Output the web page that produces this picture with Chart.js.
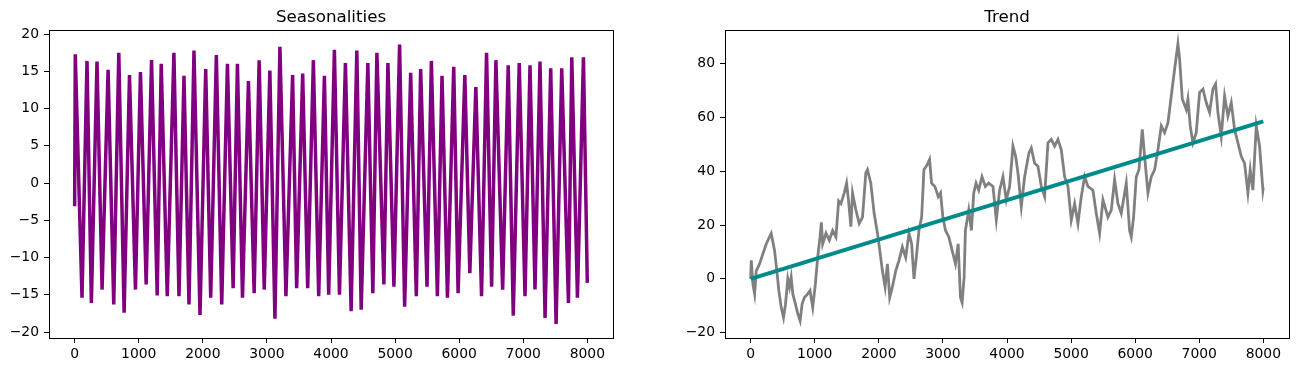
<!DOCTYPE html>
<html>
<head>
<meta charset="utf-8">
<script src="https://cdn.jsdelivr.net/npm/chart.js@4.4.0/dist/chart.umd.min.js"></script>
<style>
  html, body { margin: 0; padding: 0; background: #fff; }
  #wrap { position: relative; width: 1299px; height: 372px; }
  .panel { position: absolute; top: 0; height: 372px; }
  #left { left: 0; width: 640px; }
  #right { left: 660px; width: 639px; }
</style>
</head>
<body>
<div id="wrap">
  <div class="panel" id="left"><canvas id="seasonChart" width="640" height="372"></canvas></div>
  <div class="panel" id="right"><canvas id="trendChart" width="639" height="372"></canvas></div>
</div>
<script>
// tick labels
var xTicks = [0, 1000, 2000, 3000, 4000, 5000, 6000, 7000, 8000];
var seasYTicks = [-20, -15, -10, -5, 0, 5, 10, 15, 20];
var trendYTicks = [-20, 0, 20, 40, 60, 80];

// seasonalities: weekly highs and lows
var seasStartX = 0, seasStartY = -3.1;
var seasPeakX = [10, 193, 349, 522, 689, 856, 1027, 1200, 1351, 1549, 1706, 1862, 2045, 2211, 2384, 2540,
  2712, 2879, 3046, 3203, 3401, 3558, 3725, 3897, 4053, 4225, 4403, 4575, 4716, 4888, 5070, 5243,
  5399, 5566, 5732, 5915, 6088, 6260, 6427, 6573, 6765, 6937, 7105, 7261, 7428, 7600, 7757, 7939];
var seasPeakY = [17.3, 16.4, 16.3, 15.2, 17.5, 14.5, 14.9, 16.5, 16, 17.5, 14.4, 17.8, 15.3, 17.2, 16, 16,
  13.7, 16.5, 15.1, 18.3, 14.5, 14.7, 16.5, 14.4, 17.9, 16.1, 17.8, 16.1, 17.5, 16.1, 18.6, 14.8,
  15.3, 16.4, 14.4, 15.6, 14.5, 12.9, 17.5, 16.5, 15.8, 16.1, 15.8, 16.3, 15.4, 15.4, 16.9, 16.9];
var seasTroughX = [115, 261, 428, 610, 772, 949, 1116, 1288, 1445, 1628, 1784, 1956, 2123, 2295, 2473, 2619,
  2801, 2958, 3125, 3297, 3464, 3636, 3808, 3964, 4132, 4314, 4471, 4653, 4825, 4982, 5149, 5331,
  5498, 5660, 5817, 5983, 6166, 6349, 6506, 6678, 6844, 7027, 7183, 7340, 7512, 7705, 7845, 7999];
var seasTroughY = [-15.4, -16.1, -14.3, -16.3, -17.4, -14.3, -13.6, -15.1, -15.2, -15.2, -16.3, -17.7, -15.4, -16.3, -14.1, -15.4,
  -14.8, -14.3, -18.2, -15.2, -14.1, -14.1, -15.2, -15, -15, -17.2, -17, -14.8, -13.6, -13.9, -16.6, -15.2,
  -13.9, -15.2, -15.4, -14.8, -12.1, -15.2, -13.9, -14.3, -17.8, -15.2, -14.3, -18.1, -18.9, -16.1, -15.4, -13.4];

// trend: the noisy series and its straight fit
var trendX = [0, 10, 36, 62, 88, 140, 192, 243, 295, 321, 373, 409, 440, 477, 513, 544, 580, 606, 632, 658,
  699, 736, 772, 803, 839, 891, 927, 969, 1010, 1046, 1083, 1103, 1124, 1176, 1228, 1279, 1331, 1373, 1409, 1461,
  1497, 1528, 1564, 1590, 1642, 1694, 1746, 1797, 1823, 1875, 1927, 1979, 2015, 2056, 2098, 2134, 2170, 2212, 2264, 2315,
  2367, 2419, 2471, 2512, 2549, 2585, 2626, 2668, 2704, 2756, 2792, 2823, 2875, 2927, 2963, 2999, 3041, 3092, 3144, 3196,
  3238, 3274, 3300, 3331, 3351, 3403, 3445, 3481, 3517, 3559, 3610, 3662, 3714, 3781, 3833, 3885, 3937, 3989, 4041, 4093,
  4135, 4171, 4223, 4275, 4343, 4379, 4431, 4483, 4535, 4587, 4639, 4691, 4743, 4795, 4847, 4899, 4951, 5003, 5055, 5107,
  5159, 5211, 5263, 5341, 5393, 5445, 5497, 5575, 5627, 5679, 5731, 5783, 5861, 5913, 5939, 5975, 6017, 6059, 6111, 6147,
  6199, 6251, 6303, 6355, 6407, 6459, 6511, 6563, 6615, 6667, 6693, 6735, 6797, 6823, 6859, 6901, 6953, 7005, 7057, 7109,
  7161, 7213, 7255, 7291, 7343, 7395, 7447, 7499, 7551, 7603, 7655, 7707, 7759, 7795, 7837, 7889, 7941, 7993, 7999];
var trendY = [0, 6.9, -1.9, -5.6, 3, 5.6, 9.4, 13, 15.6, 16.9, 10.6, 3, -4.4, -10.6, -14.4, -9.4, 0, -3, 0.6, -5.6,
  -9.4, -13, -15.6, -9.4, -6.9, -5.6, -4.4, -10.6, -1.9, 8, 15.6, 21, 13, 17, 14.4, 18, 15.6, 29, 28, 32,
  35.6, 29, 19.4, 32, 25.6, 20.6, 23, 39.4, 40.6, 35.6, 24.4, 17, 10.6, 3, -3, 5.6, -6.9, -3, 3, 6.9,
  11.9, 8, 17, 13, 0, 8, 18, 23, 40.6, 42.5, 44.4, 35.6, 34.4, 30.6, 32, 23, 18, 15.6, 10.6, 5.6,
  13, -6.9, -8.8, 0.6, 18, 25.6, 18, 32, 35.6, 33, 38, 34.4, 35.6, 34.4, 21.9, 33, 38, 29.4, 34.4, 49.4,
  45.6, 39.4, 26.9, 38, 46.9, 48.7, 43, 41.9, 34.4, 30.6, 50.6, 51.9, 49.4, 51.9, 48, 38, 34.4, 21.9, 28, 20.6,
  30.6, 38, 34.4, 33, 24.4, 17, 29.4, 23, 25.6, 36.9, 28, 24.4, 35.6, 18, 15.6, 23, 38, 40.6, 55.6, 45.6,
  32, 38, 40.6, 48, 56.9, 54.4, 58, 68, 78, 87.5, 81.9, 66.9, 63, 66.9, 56.9, 50.6, 54.4, 69.4, 70.6, 65.6,
  61.9, 70.6, 72.5, 61.9, 53, 68, 60.6, 65.6, 55.6, 50.6, 45.6, 43, 32, 40.6, 33, 56.9, 49.4, 33, 34];
var fitX = [0, 7999];
var fitY = [0, 58.6];

function toPoints(xs, ys) {
  var pts = [];
  for (var i = 0; i < xs.length; i++) pts.push({ x: xs[i], y: ys[i] });
  return pts;
}

var seasPoints = [{ x: seasStartX, y: seasStartY }];
for (var i = 0; i < seasPeakX.length; i++) {
  seasPoints.push({ x: seasPeakX[i], y: seasPeakY[i] });
  seasPoints.push({ x: seasTroughX[i], y: seasTroughY[i] });
}

function fmt(v) { return String(v).replace('-', '\u2212'); }

var FONT = 'DejaVu Sans';

// box round the plot area and the title above it
var frameAndTitle = {
  id: 'frameAndTitle',
  afterDraw: function(chart) {
    var a = chart.chartArea, ctx = chart.ctx;
    ctx.save();
    ctx.strokeStyle = '#000';
    ctx.lineWidth = 1;
    ctx.strokeRect(Math.round(a.left) + 0.5, Math.round(a.top) + 0.5,
      Math.round(a.right - a.left), Math.round(a.bottom - a.top));
    ctx.fillStyle = '#000';
    ctx.font = '16.7px "' + FONT + '"';
    ctx.textAlign = 'center';
    ctx.textBaseline = 'alphabetic';
    ctx.fillText(chart.options.plugins.frameAndTitle.text, (a.left + a.right) / 2, a.top - 8);
    ctx.restore();
  }
};

function makeOptions(title, yTicks, yMin, yMax, yWidth, padRight) {
  return {
    responsive: false,
    animation: false,
    parsing: false,
    layout: { padding: { top: 30, right: padRight, left: 0, bottom: 0 } },
    elements: { point: { radius: 0 }, line: { tension: 0 } },
    scales: {
      x: {
        type: 'linear', min: -400, max: 8400,
        border: { display: false },
        grid: { drawOnChartArea: false, drawTicks: true, tickLength: 5, color: '#000', lineWidth: 1 },
        ticks: { color: '#000', padding: 3, font: { family: FONT, size: 13.9 }, maxRotation: 0, callback: fmt },
        afterBuildTicks: function(s) { s.ticks = xTicks.map(function(v) { return { value: v }; }); },
        afterFit: function(s) { s.height = 34; }
      },
      y: {
        type: 'linear', min: yMin, max: yMax,
        border: { display: false },
        grid: { drawOnChartArea: false, drawTicks: true, tickLength: 5, color: '#000', lineWidth: 1 },
        ticks: { color: '#000', padding: 5, font: { family: FONT, size: 13.9 }, callback: fmt },
        afterBuildTicks: function(s) { s.ticks = yTicks.map(function(v) { return { value: v }; }); },
        afterFit: function(s) { s.width = yWidth; }
      }
    },
    plugins: {
      legend: { display: false },
      tooltip: { enabled: false },
      frameAndTitle: { text: title }
    }
  };
}

new Chart(document.getElementById('seasonChart'), {
  type: 'line',
  data: {
    datasets: [{
      data: seasPoints,
      borderColor: '#800080',
      borderWidth: 3.5,
      fill: false
    }]
  },
  options: makeOptions('Seasonalities', seasYTicks, -20.8, 20.55, 49, 27),
  plugins: [frameAndTitle]
});

new Chart(document.getElementById('trendChart'), {
  type: 'line',
  data: {
    datasets: [{
      data: toPoints(fitX, fitY),
      borderColor: '#008b8b',
      borderWidth: 4,
      fill: false
    }, {
      data: toPoints(trendX, trendY),
      borderColor: '#808080',
      borderWidth: 2.8,
      fill: false
    }]
  },
  options: makeOptions('Trend', trendYTicks, -22, 92.6, 65, 10),
  plugins: [frameAndTitle]
});
</script>
</body>
</html>
